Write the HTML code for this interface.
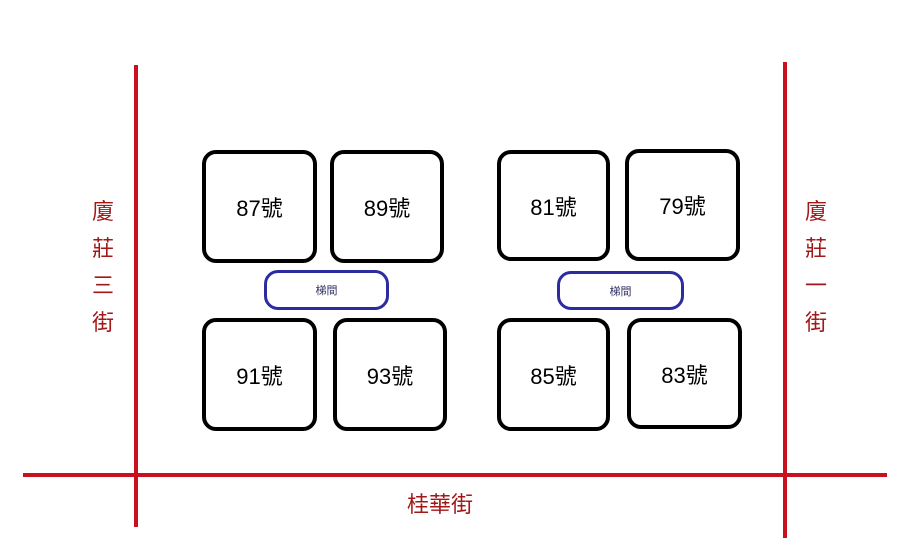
<!DOCTYPE html>
<html><head><meta charset="utf-8"><style>
body{margin:0;width:900px;height:558px;background:#fff;position:relative;overflow:hidden;font-family:"Liberation Sans","Noto Sans CJK TC",sans-serif}
.b{position:absolute;border:4px solid #000;border-radius:14px;box-sizing:border-box;display:flex;align-items:center;justify-content:center;font-size:22px;color:#000}
.s{position:absolute;border:3px solid #2c2ca0;border-radius:14px;box-sizing:border-box;display:flex;align-items:center;justify-content:center;font-size:11px;color:#333366}
.l{position:absolute;background:#c8101e}
.t{position:absolute;color:#a01818;font-size:22px;line-height:37px;text-align:center;width:30px}
</style></head><body>
<div class="l" style="left:134px;top:65px;width:4px;height:462px"></div>
<div class="l" style="left:783px;top:62px;width:4px;height:476px"></div>
<div class="l" style="left:23px;top:473px;width:864px;height:4px"></div>
<div class="t" style="left:88px;top:193px">廈<br>莊<br>三<br>街</div>
<div class="t" style="left:801px;top:193px">廈<br>莊<br>一<br>街</div>
<div class="t" style="left:400px;top:486px;width:80px">桂華街</div>
<div class="b" style="left:202px;top:150px;width:115px;height:113px">87號</div>
<div class="b" style="left:330px;top:150px;width:114px;height:113px">89號</div>
<div class="b" style="left:202px;top:318px;width:115px;height:113px">91號</div>
<div class="b" style="left:333px;top:318px;width:114px;height:113px">93號</div>
<div class="b" style="left:497px;top:150px;width:113px;height:111px">81號</div>
<div class="b" style="left:625px;top:149px;width:115px;height:112px">79號</div>
<div class="b" style="left:497px;top:318px;width:113px;height:113px">85號</div>
<div class="b" style="left:627px;top:318px;width:115px;height:111px">83號</div>
<div class="s" style="left:264px;top:270px;width:125px;height:40px">梯間</div>
<div class="s" style="left:557px;top:271px;width:127px;height:39px">梯間</div>
</body></html>
